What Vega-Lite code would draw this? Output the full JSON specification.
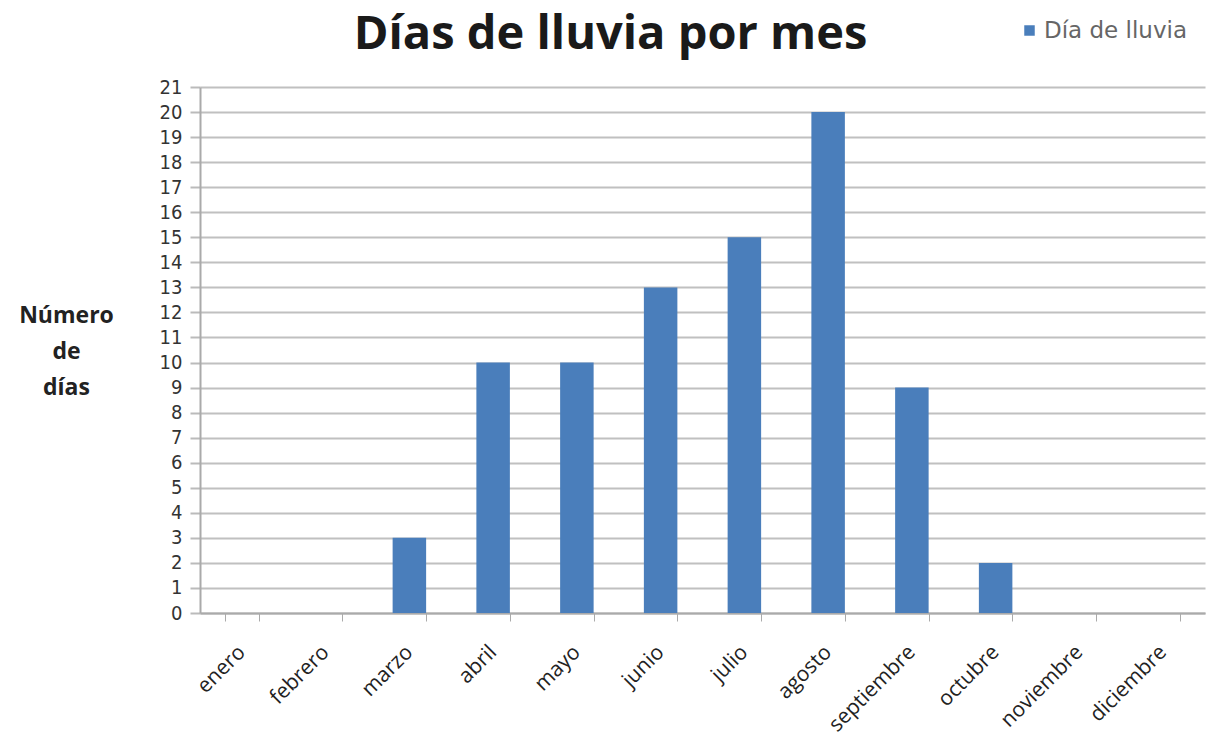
{
  "$schema": "https://vega.github.io/schema/vega-lite/v6.json",
  "autosize": "none",
  "width": 1005,
  "height": 526,
  "padding": {"left": 200, "top": 87, "right": 11, "bottom": 135},
  "background": "white",
  "title": {
    "text": "Días de lluvia por mes",
    "font": "Open Sans",
    "fontSize": 47,
    "fontWeight": "bold",
    "color": "#1a1a1a",
    "anchor": "middle",
    "dx": -92,
    "offset": -40
  },
  "data": {
    "values": [
      {"mes": "enero", "dias": 0},
      {"mes": "febrero", "dias": 0},
      {"mes": "marzo", "dias": 3},
      {"mes": "abril", "dias": 10},
      {"mes": "mayo", "dias": 10},
      {"mes": "junio", "dias": 13},
      {"mes": "julio", "dias": 15},
      {"mes": "agosto", "dias": 20},
      {"mes": "septiembre", "dias": 9},
      {"mes": "octubre", "dias": 2},
      {"mes": "noviembre", "dias": 0},
      {"mes": "diciembre", "dias": 0}
    ]
  },
  "mark": {"type": "bar", "color": "#4A7EBB"},
  "encoding": {
    "x": {
      "field": "mes",
      "type": "nominal",
      "sort": null,
      "scale": {"paddingInner": 0.6, "paddingOuter": 0.3},
      "axis": {
        "title": null,
        "labelAngle": -45,
        "labelAlign": "right",
        "labelBaseline": "top",
        "labelFont": "Open Sans",
        "labelFontSize": 21,
        "labelColor": "#222222",
        "labelPadding": 20,
        "labelOffset": -8,
        "tickBand": "extent",
        "tickColor": "#aaaaaa",
        "tickSize": 8,
        "domainColor": "#aaaaaa",
        "domainWidth": 2,
        "grid": false
      }
    },
    "y": {
      "field": "dias",
      "type": "quantitative",
      "scale": {"domain": [0, 21], "nice": false},
      "axis": {
        "title": ["Número", "de", "días"],
        "titleAngle": 0,
        "titleAlign": "center",
        "titleBaseline": "top",
        "titleX": -134,
        "titleY": 217,
        "titleFont": "Open Sans",
        "titleFontSize": 23,
        "titleFontWeight": "bold",
        "titleColor": "#222222",
        "titleLineHeight": 36,
        "values": [0,1,2,3,4,5,6,7,8,9,10,11,12,13,14,15,16,17,18,19,20,21],
        "labelFont": "DejaVu Sans Condensed",
        "labelFontSize": 20,
        "labelColor": "#333333",
        "labelPadding": 8,
        "tickSize": 10,
        "tickColor": "#bbbbbb",
        "tickWidth": 2,
        "domainColor": "#aaaaaa",
        "domainWidth": 2,
        "grid": true,
        "gridColor": "#c0c0c0",
        "gridWidth": 2
      }
    },
    "fill": {
      "datum": "Día de lluvia",
      "type": "nominal",
      "scale": {"range": ["#4A7EBB"]},
      "legend": {
        "title": null,
        "orient": "none",
        "legendX": 818,
        "legendY": -68,
        "symbolType": "square",
        "symbolSize": 110,
        "labelOffset": 3,
        "labelFont": "DejaVu Sans",
        "labelFontSize": 23,
        "labelColor": "#666666"
      }
    }
  },
  "config": {"view": {"stroke": null}}
}
